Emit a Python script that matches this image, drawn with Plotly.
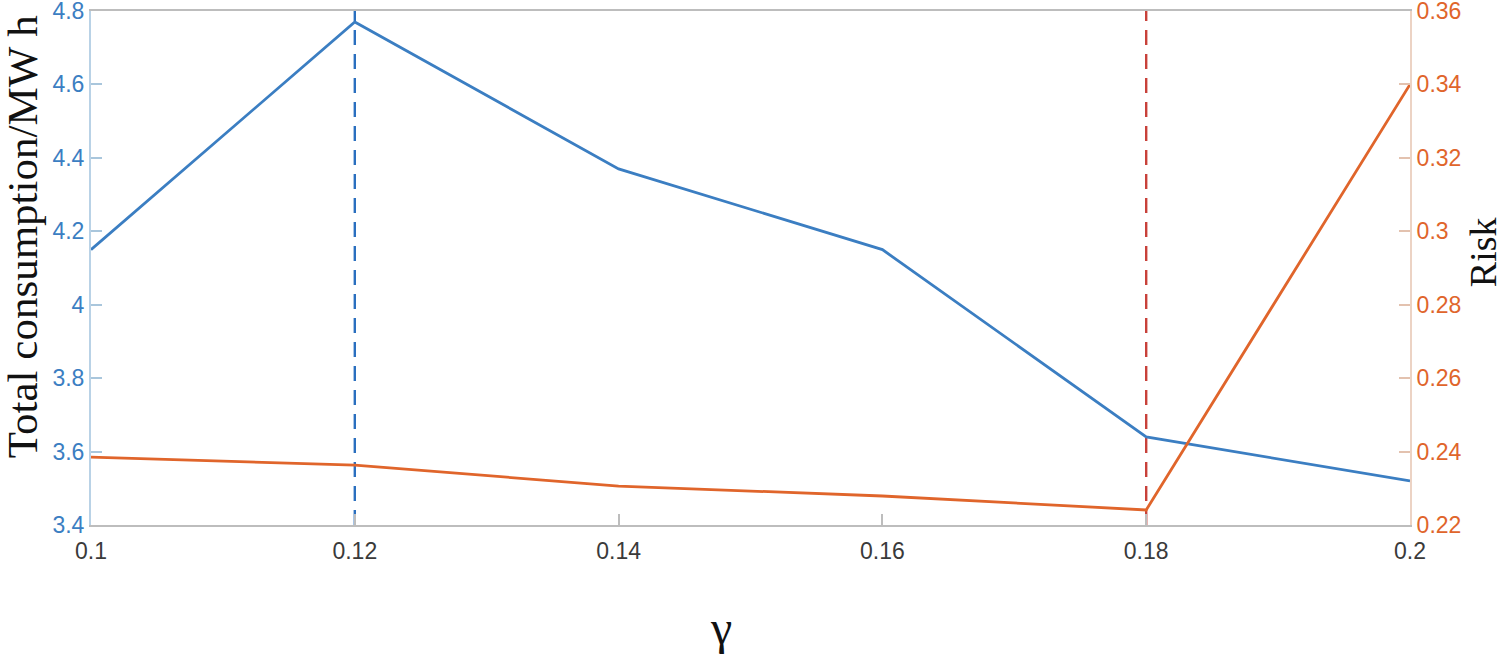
import plotly.graph_objects as go

gamma = [0.1, 0.12, 0.14, 0.16, 0.18, 0.2]
consumption = [4.15, 4.77, 4.37, 4.15, 3.64, 3.52]
risk = [0.2385, 0.2363, 0.2306, 0.2279, 0.2241, 0.34]

x_ticks = [0.1, 0.12, 0.14, 0.16, 0.18, 0.2]
x_labels = ["0.1", "0.12", "0.14", "0.16", "0.18", "0.2"]
y1_ticks = [3.4, 3.6, 3.8, 4.0, 4.2, 4.4, 4.6, 4.8]
y1_labels = ["3.4", "3.6", "3.8", "4", "4.2", "4.4", "4.6", "4.8"]
y2_ticks = [0.22, 0.24, 0.26, 0.28, 0.30, 0.32, 0.34, 0.36]
y2_labels = ["0.22", "0.24", "0.26", "0.28", "0.3", "0.32", "0.34", "0.36"]
marker_blue_x = 0.12
marker_red_x = 0.18

BLUE = "#3b7ec2"
ORANGE = "#e0652b"
SERIF = "Liberation Serif, Times New Roman, serif"
SANS = "Liberation Sans, Arial, sans-serif"

fig = go.Figure()
fig.add_trace(go.Scatter(x=[marker_blue_x, marker_blue_x], y=[y1_ticks[0], y1_ticks[-1]],
                         mode="lines", line=dict(color="#2a6fbf", width=2.4, dash="15px,9px"),
                         showlegend=False, hoverinfo="skip"))
fig.add_trace(go.Scatter(x=[marker_red_x, marker_red_x], y=[y1_ticks[0], y1_ticks[-1]],
                         mode="lines", line=dict(color="#c8413a", width=2.4, dash="15px,9px"),
                         showlegend=False, hoverinfo="skip"))
fig.add_trace(go.Scatter(x=gamma, y=consumption, mode="lines",
                         line=dict(color=BLUE, width=2.8), showlegend=False))
fig.add_trace(go.Scatter(x=gamma, y=risk, mode="lines", yaxis="y2",
                         line=dict(color=ORANGE, width=2.8), showlegend=False))

fig.update_layout(
    width=1500, height=659,
    margin=dict(l=91, r=90, t=11, b=134, autoexpand=False),
    paper_bgcolor="white", plot_bgcolor="white",
    xaxis=dict(range=[0.1, 0.2], tickvals=x_ticks, ticktext=x_labels,
               showgrid=False, zeroline=False, showline=True, linecolor="#bdbdbd",
               linewidth=2, mirror=True, ticks="inside", ticklen=11, tickwidth=1.5,
               tickcolor="#bdbdbd", ticklabelstandoff=4, ticklabeloverflow="allow",
               tickfont=dict(family=SANS, size=23, color="#3a3a3a")),
    yaxis=dict(range=[3.4, 4.8], tickvals=y1_ticks, ticktext=y1_labels,
               showgrid=False, zeroline=False, showline=True, linecolor="#b9d2e6",
               linewidth=2, ticks="inside", ticklen=11, tickwidth=1.5,
               tickcolor="#a9c6dc", ticklabeloverflow="allow",
               tickfont=dict(family=SANS, size=23, color=BLUE)),
    yaxis2=dict(range=[0.22, 0.36], tickvals=y2_ticks, ticktext=y2_labels,
                overlaying="y", side="right",
                showgrid=False, zeroline=False, showline=True, linecolor="#ecd3c4",
                linewidth=2, ticks="inside", ticklen=11, tickwidth=1.5,
                tickcolor="#e3c2af", ticklabeloverflow="allow",
                tickfont=dict(family=SANS, size=23, color=ORANGE)),
    annotations=[
        dict(text="Total consumption/MW h", xref="paper", yref="paper",
             x=-0.0523, y=0.56, xanchor="center", yanchor="middle", textangle=-90,
             showarrow=False, font=dict(family=SERIF, size=43, color="#111111")),
        dict(text="Risk", xref="paper", yref="paper",
             x=1.0554, y=0.531, xanchor="center", yanchor="middle", textangle=-90,
             showarrow=False, font=dict(family=SERIF, size=38, color="#111111")),
        dict(text="γ", xref="paper", yref="paper",
             x=0.4776, y=-0.2, xanchor="center", yanchor="middle",
             showarrow=False, font=dict(family=SERIF, size=48, color="#111111")),
    ],
)

fig.write_html("out.html", config={"displayModeBar": False},
               post_script="document.body.style.margin='0';document.body.style.overflow='hidden';")
